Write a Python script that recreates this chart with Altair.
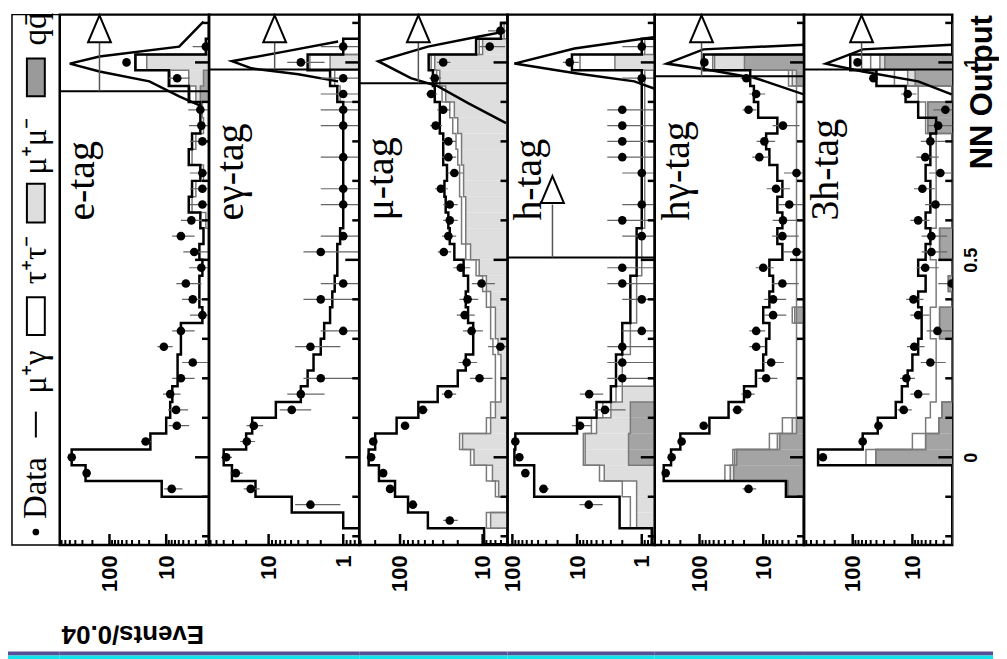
import altair as alt
import pandas as pd

SANS = "Liberation Sans"
SERIF = "Liberation Serif"

# ---------------- bins (NN output, width 0.04, centres 0.04*k) ----------------
K = list(range(-5, 28))
NN = [round(0.04 * k, 2) for k in K]
HALF_BIN = 0.02
NN_MIN, NN_MAX = -0.222, 1.121
PANEL_H = 533

PANEL_NAMES = ["e-tag", "eγ-tag", "μ-tag", "h-tag", "hγ-tag", "3h-tag"]
X_LO = [1.76, 0.61, 5.0, 0.63, 2.29, 2.15]
X_HI = [753, 63, 312, 119, 505, 655]
PANEL_W = [150, 151, 149, 148, 150, 149]
X_LABELS = [[10, 100], [1, 10], [10, 100], [1, 10, 100], [10, 100], [10, 100]]

# ---------------- e-tag ----------------
E_DATA = [0, 0, 0, 8, 253, 463, 23, 6.5, 6.7, 8.5, 5.5, 3.4, 11, 5.5, 2.3, 3.4, 4.5, 2.4, 3.2, 5.5,
          3.6, 2.3, 2.3, 2.3, 0, 2.3, 2.4, 2.5, 0, 6.4, 50, 2, 0]
E_TOT = [0, 0, 0, 12, 264, 464, 19, 10, 8.5, 7.8, 6.3, 6.3, 5.5, 5.5, 2.3, 2.6, 2.6, 2.3, 2.6, 2.2,
         2.5, 4, 3.5, 2.5, 4, 3.5, 2.5, 2.5, 4, 9, 35, 2, 0]
E_TT = [0, 0, 0, 0, 0, 0, 0, 0, 0, 0, 0, 0, 0, 0, 0, 0, 0, 0, 0, 0,
        2, 3.5, 3, 2.2, 3.5, 3, 2.2, 2.3, 3.8, 8.5, 34, 0, 0]
E_MM = [0, 0, 0, 0, 0, 0, 0, 0, 0, 0, 0, 0, 0, 0, 0, 0, 0, 0, 0, 0,
        0, 0, 0, 0, 0, 0, 0, 0, 3, 4, 22, 0, 0]
E_QQ = [0, 0, 0, 0, 0, 0, 0, 0, 0, 0, 0, 0, 0, 0, 0, 0, 0, 0, 0, 0,
        0, 0, 0, 0, 0, 0, 0, 0, 2.5, 2.2, 0, 0, 0]

# ---------------- eγ-tag ----------------
EG_DATA = [0, 0, 2.75, 17.4, 27.5, 37, 19.6, 15.8, 4.9, 3.7, 2, 0, 2.75, 1, 0, 2, 1, 0, 2, 1,
           0, 1, 1, 0, 1, 0, 1, 1, 1, 1, 3.7, 1, 0]
EG_TOT = [0, 1, 4.9, 15, 31, 40, 20, 16.6, 8, 3.7, 3, 2.5, 2, 1.8, 1.5, 1.4, 1.3, 1.2, 1.2, 1.1,
          1, 1, 1, 1, 1, 1, 1, 1, 1.2, 1.5, 3, 1, 0]
EG_TT = [0, 0, 0, 0, 0, 0, 0, 0, 0, 0, 0, 0, 0, 0, 0, 0, 0, 0, 0, 0,
         0, 0, 0, 0, 0, 0, 0, 0, 1.1, 1.3, 2.8, 0, 0]
EG_MM = [0, 0, 0, 0, 0, 0, 0, 0, 0, 0, 0, 0, 0, 0, 0, 0, 0, 0, 0, 0,
         0, 0, 0, 0, 0, 0, 0, 0, 0, 0, 1.5, 0, 0]
EG_QQ = [0] * 33

# ---------------- μ-tag ----------------
MU_DATA = [0, 25, 70, 132, 160, 224, 211, 87, 53, 26, 10.9, 15.6, 6.1, 13.6, 16.5, 15.2, 10.3, 18.4, 29.5, 26,
           25, 25, 32, 22, 26, 26, 37, 30, 42, 38, 30, 8.2, 6.1]
MU_TOT = [9.6, 46, 80, 115, 180, 240, 200, 110, 60, 35, 20, 16, 13, 13, 15, 16, 15, 17, 22, 25,
          26, 28, 29, 27, 30, 30, 33, 33, 38, 40, 45, 12, 6]
MU_TT = [0, 9, 0, 7, 9, 14, 19, 9, 8, 7, 7, 7, 7.5, 8, 8, 9, 10, 12, 16, 18,
         18, 18, 19, 19, 20, 21, 23, 25, 31, 36, 42, 11, 5.5]
MU_MM = [0, 8, 0, 6.4, 7.6, 12.7, 17.5, 8, 7, 6, 6, 6, 6.5, 7, 7, 8, 9, 11, 14, 16,
         16, 16, 17, 17, 18, 18, 20, 22, 28, 33, 38, 10, 5]
MU_QQ = [0] * 33

# ---------------- h-tag ----------------
H_DATA = [0, 0, 6.6, 33, 63, 78, 90, 9, 3.7, 6.5, 2, 2, 2, 1, 0, 1, 2, 2, 0, 1,
          2, 1, 0, 1, 2, 2, 2, 2, 0, 1, 13, 1, 0]
H_TOT = [0.7, 2.2, 2.2, 46, 46, 93, 90, 10, 5, 3, 2.5, 2.5, 2, 2, 1.5, 1.5, 1.5, 1.2, 1.2, 1.2,
         1, 1, 1, 1, 1, 1, 1, 1, 1, 1, 12, 1, 0]
H_TT = [0, 1.5, 1.5, 2, 4.5, 8, 8, 6, 4, 2.5, 2, 2, 1.5, 1.5, 1.2, 1.2, 1.2, 1, 1, 1,
        0.9, 0.9, 0.9, 0.9, 0.9, 0.9, 0.9, 0.9, 0.9, 0.9, 9, 0.9, 0]
H_MM = [0, 1.2, 1.2, 1.2, 3.8, 7.5, 7.5, 5, 3, 2, 0, 0, 0, 0, 0, 0, 0, 0, 0, 0,
        0, 0, 0, 0, 0, 0, 0, 0, 0, 0, 2.6, 0, 0]
H_QQ = [0, 0, 0, 0, 0, 1.6, 1.6, 1.5, 1.5, 0, 0, 0, 0, 0, 0, 0, 0, 0, 0, 0,
        0, 0, 0, 0, 0, 0, 0, 0, 0, 0, 0, 0, 0]

# ---------------- hγ-tag ----------------
HG_DATA = [0, 0, 0, 17, 340, 274, 191, 86, 25.5, 17.8, 9, 7.5, 12.9, 12.9, 7, 7, 5, 10, 3, 5,
           4.9, 3.9, 6.3, 3, 11.5, 9.6, 4.9, 17, 12.9, 18.4, 84, 0, 0]
HG_TOT = [0, 0, 0, 4.4, 365, 280, 200, 70, 35, 20, 13, 10, 9, 8, 10, 8, 7, 8, 5, 6,
          5, 6, 5, 6, 8, 9, 6, 12, 14, 16, 86, 0, 0]
HG_TT = [0, 0, 0, 4.3, 40, 30, 8, 5, 3, 3, 3, 3, 3, 3, 3.5, 3, 3, 3, 3, 3,
         3, 3, 3, 3, 3, 3, 3, 3, 3, 4, 62, 0, 0]
HG_MM = [0, 0, 0, 4.1, 33, 28, 6, 3.5, 0, 0, 0, 0, 0, 0, 3.2, 0, 0, 0, 0, 0,
         0, 0, 0, 0, 0, 0, 0, 0, 0, 3.5, 58, 0, 0]
HG_QQ = [0, 0, 0, 4.1, 29, 26, 5.5, 3, 0, 0, 0, 0, 0, 0, 3, 0, 0, 0, 0, 0,
         0, 0, 0, 0, 0, 0, 0, 0, 0, 3, 19.7, 0, 0]

# ---------------- 3h-tag ----------------
H3_DATA = [0, 0, 0, 0, 0, 316, 68, 37, 14, 8, 12.6, 5, 9.3, 3.8, 8, 9.6, 2.2, 6.1, 4.8, 4.8,
           8, 4.1, 6.8, 3.4, 6.1, 5, 3.7, 2.8, 12, 45, 83, 0, 0]
H3_TOT = [0, 0, 0, 0, 0, 380, 68, 38, 19, 15, 12, 10, 8, 7, 7, 8, 6, 8, 6, 5,
          6, 5, 5, 6, 5, 5, 4, 8, 13, 40, 110, 0, 0]
H3_TT = [0, 0, 0, 0, 0, 60, 10, 6, 5, 4, 4, 4, 4, 5, 5, 4, 4, 4, 5, 5,
         4, 4, 4, 4, 4, 4, 6, 6, 8, 20, 50, 0, 0]
H3_MM = [0, 0, 0, 0, 0, 41, 6, 3.6, 3.2, 0, 0, 0, 0, 3.5, 3.5, 0, 2.5, 0, 3.5, 3.5,
         0, 0, 0, 0, 0, 0, 5.5, 5.5, 0, 12, 35, 0, 0]
H3_QQ = [0, 0, 0, 0, 0, 41, 6, 3.6, 3.2, 0, 0, 0, 0, 3.5, 3.5, 0, 2.5, 0, 3.5, 3.5,
         0, 0, 0, 0, 0, 0, 5.5, 5.5, 0, 9, 29, 0, 0]

DATA = [E_DATA, EG_DATA, MU_DATA, H_DATA, HG_DATA, H3_DATA]
TOT = [E_TOT, EG_TOT, MU_TOT, H_TOT, HG_TOT, H3_TOT]
TT = [E_TT, EG_TT, MU_TT, H_TT, HG_TT, H3_TT]
MM = [E_MM, EG_MM, MU_MM, H_MM, HG_MM, H3_MM]
QQ = [E_QQ, EG_QQ, MU_QQ, H_QQ, HG_QQ, H3_QQ]

# peaked curves near NN = 1 (NN, events)
CURVE_NN = [
    [0.889, 0.914, 0.952, 0.977, 0.997, 1.015, 1.040, 1.103],
    [0.952, 0.970, 0.985, 1.003, 1.028, 1.053],
    [0.846, 0.897, 0.940, 0.960, 1.003, 1.040, 1.065, 1.078],
    [0.932, 0.952, 0.972, 0.997, 1.035, 1.065],
    [0.919, 0.960, 0.982, 0.997, 1.033, 1.045],
    [0.919, 0.952, 0.977, 0.997, 1.033, 1.045],
]
CURVE_N = [
    [2.4, 5.9, 19.8, 150, 500, 150, 5.9, 2.2],
    [1.17, 4.0, 16.9, 31, 5.9, 1.17],
    [5.2, 15, 35, 74, 184, 46, 11.5, 5.4],
    [0.6, 1.3, 10, 93, 11, 0.6],
    [2.3, 13, 78, 328, 87, 2.2],
    [2.2, 8, 68, 282, 68, 2.2],
]

# selection cuts and arrows
CUT_NN = [0.927, 0.982, 0.947, 0.506, 0.965, 0.982]
ARROW_N = [150, 8.3, 60, 24, 93, 71]
ARROW_TOP = [1.05, 1.05, 1.05, 0.64, 1.05, 1.05]
TRI_NN = [1.085, 1.085, 1.085, 0.678, 1.085, 1.085]

NN_TICKS = [round(-0.2 + 0.1 * j, 1) for j in range(14)]
NN_MAJOR = [0.0, 0.5, 1.0]

LIGHT = "#dedede"
DARK = "#a4a4a4"
OUTLINE = "#7a7a7a"
BAND_TOP = "#574f95"
BAND_BOTTOM = "#12e6ec"
TRI_PATH = "M0,-1L0.85,1L-0.85,1Z"


def step_rows(values, lo, name):
    v = [max(x, lo) for x in values]
    rows = [{"s": name, "nn": NN[0] - HALF_BIN, "v": lo, "o": 0}]
    for j, (c, val) in enumerate(zip(NN, v)):
        rows.append({"s": name, "nn": round(c - HALF_BIN, 3), "v": val, "o": j + 1})
    rows.append({"s": name, "nn": NN[-1] + HALF_BIN, "v": v[-1], "o": len(NN) + 1})
    rows.append({"s": name, "nn": NN[-1] + HALF_BIN, "v": lo, "o": len(NN) + 2})
    return rows


def log_ticks(lo, hi):
    out = []
    for d in range(-1, 4):
        for m in range(1, 10):
            t = m * 10 ** d
            if lo <= t <= hi:
                out.append({"t": t, "major": m == 1})
    return pd.DataFrame(out)


ONE = pd.DataFrame({"a": [0]})


def band_layers(x0, x1):
    # decorative strip along the bottom edge of the page
    return [
        alt.Chart(ONE).mark_rect(color=BAND_TOP).encode(
            x=alt.value(x0), x2=alt.value(x1), y=alt.value(PANEL_H + 107), y2=alt.value(PANEL_H + 111)),
        alt.Chart(ONE).mark_rect(color=BAND_BOTTOM).encode(
            x=alt.value(x0), x2=alt.value(x1), y=alt.value(PANEL_H + 111), y2=alt.value(PANEL_H + 118)),
    ]


def panel(i):
    lo, hi, w = X_LO[i], X_HI[i], PANEL_W[i]
    last = i == len(PANEL_NAMES) - 1
    xscale = alt.Scale(type="log", domain=[lo, hi], reverse=True, nice=False)
    yscale = alt.Scale(domain=[NN_MIN, NN_MAX], nice=False, zero=False)
    xaxis = alt.Axis(
        values=X_LABELS[i], format="d", labelAngle=270, labelAlign="right",
        labelBaseline="middle", labelPadding=10, labelFont=SANS, labelFontSize=22,
        labelFontWeight="bold", labelColor="black", ticks=False, tickSize=0, domain=False, grid=False,
        labelFlush=False, labelOverlap=False,
        title=("Events/0.04" if i == 0 else None), titleAngle=180, titleX=73, titleY=89,
        titleAlign="center", titleBaseline="middle", titleFont=SANS, titleFontSize=26,
        titleFontWeight="bold", titleColor="black",
    )
    if last:
        yaxis = alt.Axis(
            orient="right", values=NN_MAJOR, format="~g", labelAngle=270, labelAlign="center",
            labelBaseline="top", labelPadding=10, labelFont=SANS, labelFontSize=18,
            labelFontWeight="bold", labelColor="black", ticks=False, tickSize=0, domain=False, grid=False,
            labelFlush=False, labelOverlap=False, title="NN Output", titleAngle=270,
            titleAlign="right", titleBaseline="middle", titleX=30, titleY=0, titleFont=SANS,
            titleFontSize=31, titleFontWeight="bold", titleColor="black",
        )
    else:
        yaxis = None

    def X(f):
        return alt.X(f, type="quantitative", scale=xscale, axis=xaxis)

    def Y(f):
        return alt.Y(f, type="quantitative", scale=yscale, axis=yaxis)

    bins = pd.DataFrame({
        "nn": NN,
        "e0": [round(c - HALF_BIN, 3) for c in NN],
        "e1": [round(c + HALF_BIN, 3) for c in NN],
        "base": [lo] * len(NN),
        "data": DATA[i], "mm": MM[i], "qq": QQ[i],
    })
    steps = pd.DataFrame(
        step_rows(TT[i], lo, "tt") + step_rows(MM[i], lo, "mm")
        + step_rows(QQ[i], lo, "qq") + step_rows(TOT[i], lo, "tot")
    )
    curve = pd.DataFrame({"nn": CURVE_NN[i], "n": CURVE_N[i], "o": list(range(len(CURVE_NN[i])))})
    arrow = pd.DataFrame({"n": [ARROW_N[i]], "cut": [CUT_NN[i]], "top": [ARROW_TOP[i]], "tri": [TRI_NN[i]]})
    xt = log_ticks(lo, hi)
    yt = pd.DataFrame({"t": NN_TICKS, "major": [t in NN_MAJOR for t in NN_TICKS]})

    layers = [
        alt.Chart(bins).mark_rect(clip=True, color=LIGHT).encode(
            x=X("mm"), x2=alt.X2("base"), y=Y("e0"), y2=alt.Y2("e1")
        ).transform_filter("datum.mm > datum.base"),
        alt.Chart(bins).mark_rect(clip=True, color=DARK).encode(
            x=X("qq"), x2=alt.X2("base"), y=Y("e0"), y2=alt.Y2("e1")
        ).transform_filter("datum.qq > datum.base"),
    ]
    for s, col, sw in [("tt", OUTLINE, 1.5), ("mm", OUTLINE, 1.5), ("qq", OUTLINE, 1.5), ("tot", "black", 2.5)]:
        layers.append(
            alt.Chart(steps).mark_line(clip=True, interpolate="step-before", color=col, strokeWidth=sw)
            .encode(x=X("v"), y=Y("nn"), order=alt.Order("o:Q"))
            .transform_filter(alt.datum.s == s)
        )
    layers += [
        alt.Chart(curve).mark_line(clip=True, color="black", strokeWidth=2.5).encode(
            x=X("n"), y=Y("nn"), order=alt.Order("o:Q")
        ),
        alt.Chart(arrow).mark_rule(color="black", strokeWidth=2).encode(
            y=Y("cut"), x=alt.value(0), x2=alt.value(w)
        ),
        alt.Chart(arrow).mark_rule(color="#555555", strokeWidth=1.5).encode(
            x=X("n"), y=Y("cut"), y2=alt.Y2("top")
        ),
        alt.Chart(arrow).mark_point(shape=TRI_PATH, size=729, filled=True, fill="white",
                                    stroke="black", strokeWidth=2, opacity=1).encode(
            x=X("n"), y=Y("tri")
        ),
        alt.Chart(bins).transform_filter("datum.data > 0").transform_calculate(
            elo="max(datum.data - sqrt(datum.data), 0.05)", ehi="datum.data + sqrt(datum.data)"
        ).mark_rule(clip=True, color="#666666", strokeWidth=1.2).encode(
            x=X("elo:Q"), x2=alt.X2("ehi:Q"), y=Y("nn")
        ),
        alt.Chart(bins).transform_filter("datum.data > 0").mark_circle(
            clip=True, color="black", size=75, opacity=1
        ).encode(x=X("data"), y=Y("nn")),
        alt.Chart(xt).transform_filter("datum.major").mark_rule(color="black", strokeWidth=2.5).encode(
            x=X("t"), y=alt.value(PANEL_H), y2=alt.value(PANEL_H - 11)
        ),
        alt.Chart(xt).transform_filter("!datum.major").mark_rule(color="black", strokeWidth=2).encode(
            x=X("t"), y=alt.value(PANEL_H), y2=alt.value(PANEL_H - 5)
        ),
        alt.Chart(yt).transform_filter("datum.major").mark_rule(color="black", strokeWidth=2.5).encode(
            y=Y("t"), x=alt.value(w), x2=alt.value(w - 14)
        ),
        alt.Chart(yt).transform_filter("!datum.major").mark_rule(color="black", strokeWidth=2.5).encode(
            y=Y("t"), x=alt.value(w), x2=alt.value(w - 7)
        ),
        alt.Chart(ONE).mark_text(text=PANEL_NAMES[i], angle=270, align="left", baseline="middle",
                                 font=SERIF, fontSize=40, color="black").encode(
            x=alt.value(22), y=alt.value(207)
        ),
    ]
    layers += band_layers(0, w + 41 if last else w)
    return alt.layer(*layers).properties(width=w, height=PANEL_H)


# ---------------- legend (rotated, left column) ----------------
LEG_TEXT = ["Data", "μ⁺γ", "τ⁺τ⁻", "μ⁺μ⁻", "qq̄"]


def leg_text(txt, y):
    return alt.Chart(ONE).mark_text(text=txt, angle=270, align="left", baseline="middle",
                                    font=SERIF, fontSize=33, color="black").encode(
        x=alt.value(28), y=alt.value(y))


def leg_box(y0, y1, fill):
    return alt.Chart(ONE).mark_rect(fill=fill, stroke="black", strokeWidth=2).encode(
        x=alt.value(19), x2=alt.value(37), y=alt.value(y0), y2=alt.value(y1))


legend = alt.layer(
    alt.Chart(ONE).mark_rect(fill="white", stroke="black", strokeWidth=1.5).encode(
        x=alt.value(4), x2=alt.value(52), y=alt.value(0), y2=alt.value(PANEL_H)),
    alt.Chart(ONE).mark_circle(size=45, color="black", opacity=1).encode(
        x=alt.value(28), y=alt.value(520)),
    leg_text(LEG_TEXT[0], 507),
    alt.Chart(ONE).mark_rule(color="black", strokeWidth=2).encode(
        x=alt.value(28), y=alt.value(399), y2=alt.value(425)),
    leg_text(LEG_TEXT[1], 381),
    leg_box(284, 322, "white"),
    leg_text(LEG_TEXT[2], 271),
    leg_box(170, 209, LIGHT),
    leg_text(LEG_TEXT[3], 161),
    leg_box(44, 82, "#9a9a9a"),
    leg_text(LEG_TEXT[4], 31),
    *band_layers(0, 52),
).properties(width=52, height=PANEL_H, view=alt.ViewBackground(strokeOpacity=0))

chart = alt.hconcat(legend, *[panel(i) for i in range(6)], spacing=0, bounds="flush").properties(
    padding={"left": 0, "top": 0, "right": 0, "bottom": 0}
).configure_view(stroke="black", strokeWidth=2.5).configure_axis(grid=False)

chart.save("out.html", embed_options={"renderer": "svg", "actions": False})
